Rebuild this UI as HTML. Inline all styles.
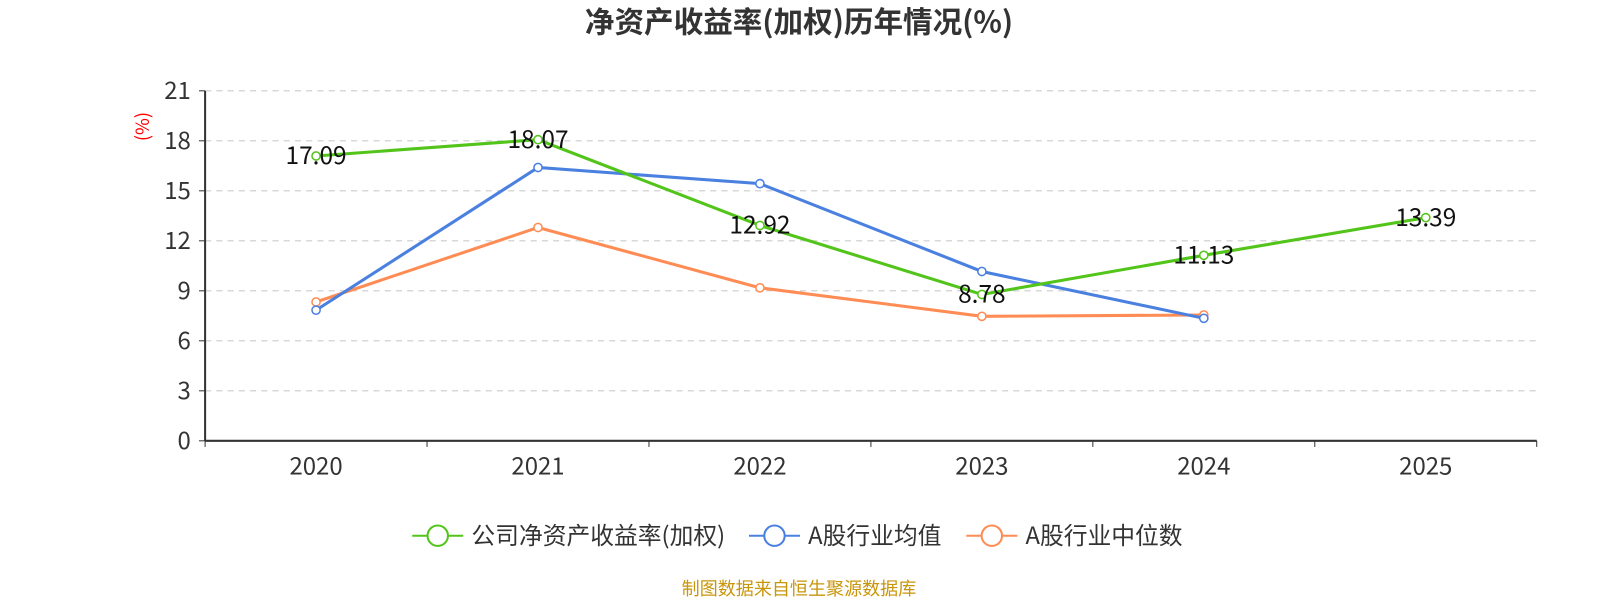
<!DOCTYPE html>
<html><head><meta charset="utf-8"><style>
body{margin:0;background:#fff;font-family:"Noto Sans CJK SC","Liberation Sans",sans-serif}
</style></head><body>
<svg width="1600" height="600" id="c" style="font-family:'Noto Sans CJK SC','Liberation Sans',sans-serif">
<g transform="scale(1.0204)">
<text x="783" y="32" text-anchor="middle" font-size="29" font-weight="bold" fill="#333">净资产收益率(加权)历年情况(%)</text>
<text transform="translate(146,124) rotate(-90)" text-anchor="middle" font-size="18" fill="#f00">(%)</text>
<g id="grid"></g><g id="axes"></g><g id="series"></g>
<g font-size="23.3" fill="#333">
<g><line x1="404" y1="525" x2="454" y2="525" stroke="#52c41a" stroke-width="2"/><circle cx="429" cy="525" r="10" fill="#fff" stroke="#52c41a" stroke-width="2"/><text x="462" y="533">公司净资产收益率(加权)</text></g>
<g><line x1="734" y1="525" x2="784" y2="525" stroke="#4a80e0" stroke-width="2"/><circle cx="759" cy="525" r="10" fill="#fff" stroke="#4a80e0" stroke-width="2"/><text x="792" y="533">A股行业均值</text></g>
<g><line x1="947" y1="525" x2="997" y2="525" stroke="#ff8c55" stroke-width="2"/><circle cx="972" cy="525" r="10" fill="#fff" stroke="#ff8c55" stroke-width="2"/><text x="1005" y="533">A股行业中位数</text></g>
</g>
<text x="783" y="583" text-anchor="middle" font-size="17.7" fill="#c8960a">制图数据来自恒生聚源数据库</text>
</g>
</svg>
<script>
const categories=['2020','2021','2022','2023','2024','2025'];
const yTicks=[0,3,6,9,12,15,18,21];
const companyVals=[17.09,18.07,12.92,8.78,11.13,13.39];
const meanVals=[7.84,16.4,15.43,10.16,7.35];
const medianVals=[8.33,12.8,9.18,7.47,7.55];
const NS='http://www.w3.org/2000/svg';
const X0=201,X1=1506,Y0=432,Y1=89,YMAX=21;
const bw=(X1-X0)/categories.length;
const x=i=>X0+bw*(i+0.5);
const y=v=>Y0-(v/YMAX)*(Y0-Y1);
function mk(t,a,p){const e=document.createElementNS(NS,t);for(const k in a)e.setAttribute(k,a[k]);p.appendChild(e);return e;}
const grid=document.getElementById('grid'),axes=document.getElementById('axes'),ser=document.getElementById('series');
yTicks.forEach(v=>{
 if(v>0){const g=mk('line',{x1:X0,x2:X1,y1:y(v),y2:y(v),stroke:'#ccc','stroke-dasharray':'6,5'},grid);
 
 }
 const t=mk('line',{x1:X0-6,x2:X0,y1:y(v),y2:y(v),stroke:'#333'},axes);
 
 
 const l=mk('text',{x:X0-14,y:y(v)+8,'text-anchor':'end','font-size':23.5,fill:'#333'},axes);l.textContent=v;
 
 
});
let a=mk('line',{x1:X0,x2:X0,y1:Y1,y2:Y0,stroke:'#333','stroke-width':2},axes);


a=mk('line',{x1:X0,x2:X1,y1:Y0,y2:Y0,stroke:'#333','stroke-width':2},axes);


for(let i=0;i<=categories.length;i++){const t=mk('line',{x1:X0+bw*i,x2:X0+bw*i,y1:Y0,y2:Y0+6,stroke:'#333'},axes);
 
 }
categories.forEach((c,i)=>{const l=mk('text',{x:x(i),y:Y0+33,'text-anchor':'middle','font-size':23.5,fill:'#333'},axes);l.textContent=c;
 
 });
function line(vals,col,name,labels){
 const g=mk('g',{},ser);
 
 
 const p=mk('polyline',{points:vals.map((v,i)=>x(i)+','+y(v)).join(' '),fill:'none',stroke:col,'stroke-width':3},g);
 
 
 vals.forEach((v,i)=>{const c=mk('circle',{cx:x(i),cy:y(v),r:4,fill:'#fff',stroke:col,'stroke-width':1.5},g);
  
  
  if(labels){const t=mk('text',{x:x(i),y:y(v)+8,'text-anchor':'middle','font-size':24,fill:'#111'},g);t.textContent=v.toFixed(2);
  
  }});
}
line(medianVals,'#ff8c55','a-share-median-series',false);
line(meanVals,'#4a80e0','a-share-mean-series',false);
line(companyVals,'#52c41a','company-roe-series',true);
</script>
</body></html>
